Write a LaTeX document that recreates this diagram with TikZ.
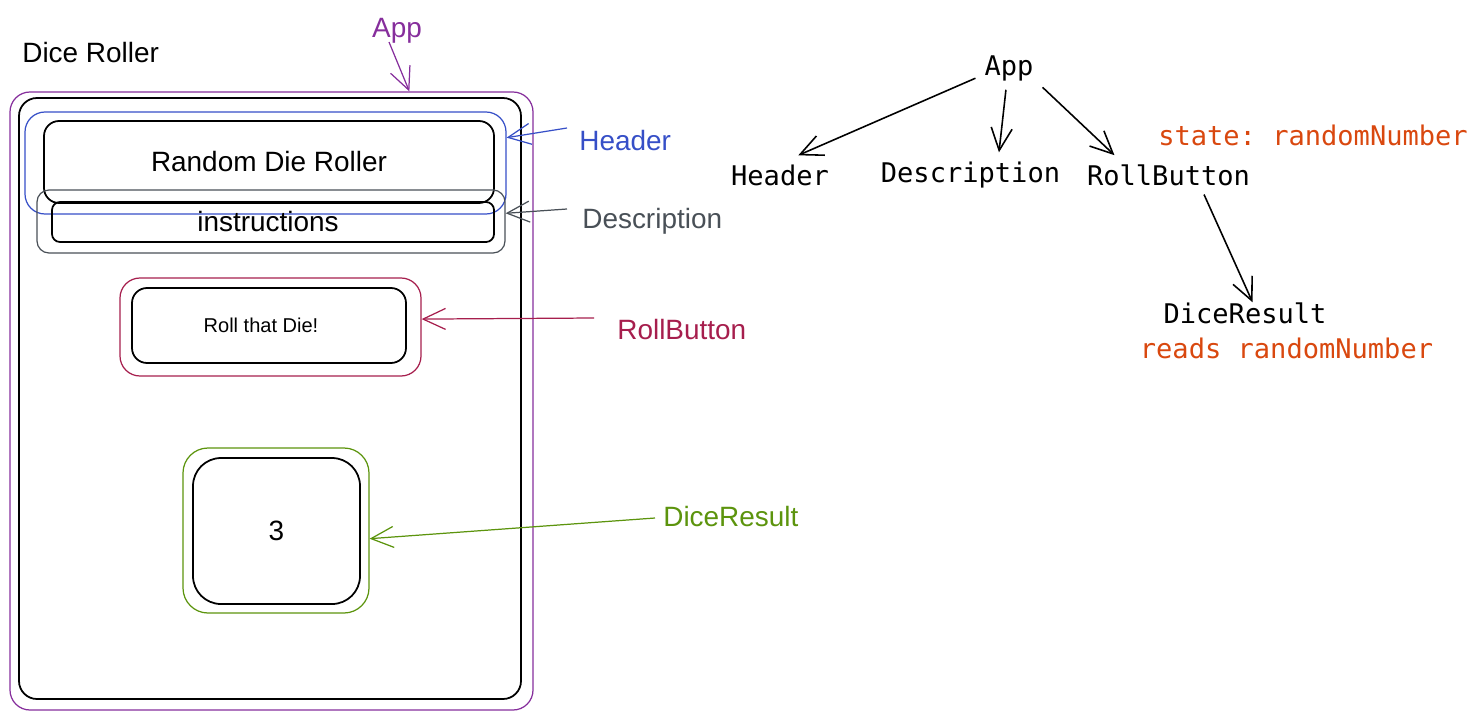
\documentclass[tikz,border=0pt]{standalone}
\usepackage{fontspec}
\setmainfont{Liberation Sans}
\newfontfamily\codefont{DejaVu Sans Mono}
\usetikzlibrary{arrows.meta}
\definecolor{appcol}{HTML}{862E9C}
\definecolor{hdrcol}{HTML}{364FC7}
\definecolor{desccol}{HTML}{495057}
\definecolor{btncol}{HTML}{A61E4D}
\definecolor{rescol}{HTML}{5C940D}
\definecolor{statecol}{HTML}{D9480F}

\begin{document}
\begin{tikzpicture}[x=0.02cm, y=-0.02cm,
    frame/.style={draw, inner sep=0pt, line width=0.7pt},
    inner/.style={draw, inner sep=0pt, line width=1pt},
    tag/.style={anchor=base west, inner sep=0pt, font=\fontsize{15.9}{19}\selectfont},
    code/.style={anchor=base, inner sep=5pt, font=\codefont\frenchspacing\fontsize{15.4}{18}\selectfont},
    pointer/.style={-{Straight Barb[length=0.45cm,width=0.42cm]}, line width=0.7pt},
  ]
    \def\pxu{0.02cm}
    \useasboundingbox (0,0) rectangle (1479,720);
    % mock-up of the page
    \node[tag] (title) at (22,62) {Dice Roller};
    \node[frame, appcol, rounded corners=0.4cm, minimum width=523*\pxu, minimum height=618*\pxu] (app_out) at (271.5,401) {};
    \node[inner, rounded corners=0.36cm, minimum width=502*\pxu, minimum height=601*\pxu] (app_in) at (270,398.5) {};
    \node[frame, hdrcol, rounded corners=0.4cm, minimum width=481*\pxu, minimum height=102*\pxu] (hdr_out) at (265.5,163) {};
    \node[inner, rounded corners=0.3cm, minimum width=450*\pxu, minimum height=82*\pxu, font=\fontsize{15.9}{19}\selectfont] (hdr_in) at (269,162) {Random Die Roller};
    \node[frame, desccol, rounded corners=0.24cm, minimum width=468*\pxu, minimum height=63*\pxu] (desc_out) at (271,221.5) {};
    \node[inner, rounded corners=0.16cm, minimum width=442*\pxu, minimum height=40*\pxu, font=\fontsize{15.9}{19}\selectfont] (desc_in) at (273,222) {instructions\hspace*{0.2cm}};
    \node[frame, btncol, rounded corners=0.4cm, minimum width=301*\pxu, minimum height=98*\pxu] (btn_out) at (270.5,327) {};
    \node[inner, rounded corners=0.3cm, minimum width=274*\pxu, minimum height=75*\pxu, font=\fontsize{11.4}{14}\selectfont] (btn_in) at (269,325.5) {Roll that Die!\hspace*{0.32cm}};
    \node[frame, rescol, rounded corners=0.5cm, minimum width=186*\pxu, minimum height=165*\pxu] (res_out) at (276,530.5) {};
    \node[inner, rounded corners=0.56cm, minimum width=167*\pxu, minimum height=146*\pxu, font=\fontsize{15.9}{19}\selectfont] (res_in) at (276.5,531) {3};
    % component names
    \node[tag, anchor=base, appcol] (app_lbl) at (397,37) {App};
    \node[tag, hdrcol] (hdr_lbl) at (579,150) {Header};
    \node[tag, desccol] (desc_lbl) at (582,228) {Description};
    \node[tag, btncol] (btn_lbl) at (617,339) {RollButton};
    \node[tag, rescol] (res_lbl) at (663,526) {DiceResult};
    \coordinate (app_from) at (389,42);
    \coordinate (hdr_from) at (567,128);
    \coordinate (desc_from) at (567,209);
    \coordinate (btn_from) at (594,318);
    \coordinate (res_from) at (655,518);
    \path (app_from) edge [pointer, appcol] (app_out.66);
    \path (hdr_from) edge [pointer, hdrcol] (hdr_out.6);
    \path (desc_from) edge [pointer, desccol] (desc_out.2);
    \path (btn_from) edge [pointer, btncol] (btn_out.3);
    \path (res_from) edge [pointer, rescol] (res_out.-5);
    % component tree
    \node[code] (App) at (1009,75) {App};
    \node[code] (Header) at (780,185) {Header};
    \node[code] (Description) at (970.5,182) {Description};
    \node[code] (RollButton) at (1168.5,185) {RollButton};
    \node[code, statecol] (state) at (1313,145) {state: randomNumber};
    \node[code] (DiceResult) at (1245,323) {DiceResult};
    \node[code, statecol] (reads) at (1286.5,358) {reads randomNumber};
    \path (App.197) edge [pointer, line width=0.9pt] (Header.47);
    \path (App.262) edge [pointer, line width=0.9pt] (Description.38);
    \path (App.-30) edge [pointer, line width=0.9pt] (RollButton.160);
    \path (RollButton.-29) edge [pointer, line width=0.9pt, shorten >=-0.2cm] (DiceResult.80);
\end{tikzpicture}
\end{document}
